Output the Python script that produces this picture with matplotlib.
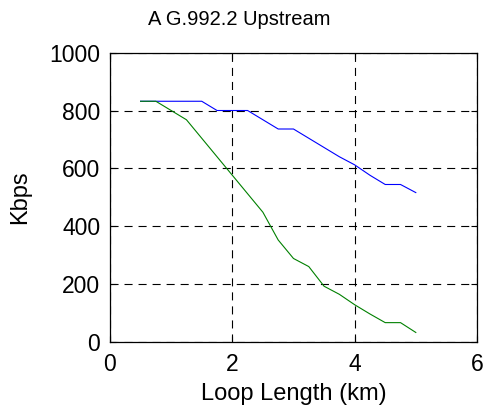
import matplotlib
matplotlib.use("Agg")
import matplotlib.pyplot as plt

plt.rcParams['font.family'] = ['Liberation Sans', 'DejaVu Sans']
plt.rcParams['lines.scale_dashes'] = False

#loop length in km
loop_km = [0.5, 0.75, 1.0, 1.25, 1.5, 1.75, 2.0, 2.25, 2.5, 2.75,
           3.0, 3.25, 3.5, 3.75, 4.0, 4.25, 4.5, 4.75, 5.0]
#upstream rates in kbps
rate_blue = [832, 832, 832, 832, 832, 800, 800, 800, 768, 736,
             736, 704, 672, 640, 612, 576, 544, 544, 516]
rate_green = [832, 832, 800, 768, 704, 640, 576, 512, 448, 352,
              288, 260, 192, 164, 128, 96, 66, 66, 32]

x_ticks = [0, 2, 4, 6]
y_ticks = [0, 200, 400, 600, 800, 1000]

fig = plt.figure(figsize=(4.88, 4.15), dpi=100)
ax = fig.add_axes([0.2254, 0.1766, 0.752, 0.6964])

ax.plot(loop_km, rate_blue, color="#0000ff", linewidth=0.8)
ax.plot(loop_km, rate_green, color="#008000", linewidth=0.8)

ax.set_xlim(0, 6)
ax.set_ylim(0, 1000)
ax.set_xticks(x_ticks)
ax.set_yticks(y_ticks)
ax.grid(True, color="k", linewidth=0.8, linestyle=(0, (5.8, 4.3)))

ax.tick_params(direction="in", top=True, right=True, length=4, width=0.8,
               labelsize=16.5)
ax.tick_params(axis="x", pad=8)
ax.tick_params(axis="y", pad=7)
for s in ax.spines.values():
    s.set_linewidth(0.9)

# title sits a bit left of the axes centre in the original
fig.text(0.49, 0.94, "A G.992.2 Upstream", fontsize=14.5, ha="center", va="baseline")
ax.set_xlabel("Loop Length (km)", fontsize=17, labelpad=5)
ax.set_ylabel("Kbps", fontsize=17, labelpad=13)

fig.savefig("out.png", dpi=100)
